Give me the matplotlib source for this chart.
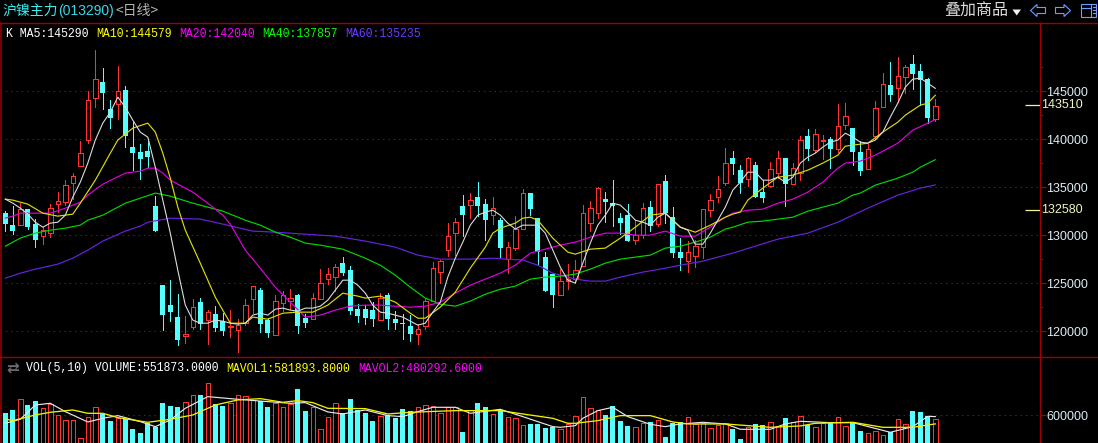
import numpy as np
import matplotlib
matplotlib.use('Agg')
import matplotlib.pyplot as plt
from matplotlib.patches import Polygon, Rectangle

# candles
open_p = [132290,131040,131040,132710,131150,129900,130210,133230,133440,135420,137190,139900,144270,145940,143130,143650,145100,139170,138650,138750,133020,
          124790,122710,121460,119480,120420,123020,121150,121770,121040,120420,120100,120830,123330,124270,121150,119580,122920,123130,123750,121350,121250,123330,125420,125630,127080,126350,122290,122290,122190,121150,123750,121250,120830,120520,119690,120520,123130,126150,128440,130210,
          133020,133130,133960,133230,132080,131560,127500,128650,130630,134380,131770,127710,125940,123750,125210,125420,126770,131250,132290,133750,133330,131770,132080,129480,130000,132920,131150,135630,131870,128230,127290,127810,128750,132600,133960,135420,
          138020,136770,135830,137290,134480,135100,136460,138020,135310,136460,140310,138850,139790,140000,138960,141460,141150,138650,136880,140310,143330,145620,145310,146460,147810,147080,146250,142080]
close_p = [131150,130420,132710,130830,129480,130520,132810,133540,135210,136150,138540,144060,146250,144790,142190,145000,140310,138540,137920,138130,130420,
           121670,121980,119060,119690,122500,120730,121980,120310,120000,120520,120630,122710,124690,120730,119790,123130,123750,123440,120520,120830,123440,125000,125940,126670,126040,122080,121560,121350,121250,123440,121250,120830,120730,119690,120210,123130,126560,127290,129900,131350,
           132080,133650,133020,131560,132810,128650,128750,130630,134380,132710,128230,124170,123750,125210,125420,126350,132290,132810,134900,133440,133020,131250,129380,130000,132810,130940,135310,132290,128130,127600,128230,128850,132710,133650,134790,137500,
           137400,135420,138020,133960,133850,136880,138020,135310,136980,139900,138960,140520,139900,138960,141350,142400,138650,136670,138960,143230,145730,144580,146560,147500,146770,146150,142190,143440]
high_p = [132500,133020,133330,132710,131670,130830,133230,134480,135730,136460,139790,145000,149270,147400,144060,147600,145520,141770,139480,139790,134060,
          124790,125310,123850,121560,123330,123440,122190,122600,121870,122190,121250,123330,124690,124480,121350,123750,124170,124370,123850,121770,123960,126460,126560,126980,127710,126770,122810,122710,123020,123960,123960,122080,121770,121670,120730,123330,127190,127400,131250,131770,
          134170,134380,135520,133750,133960,131770,129270,131980,134790,134380,131770,128230,126040,126460,126980,127400,133130,133540,135000,134480,135730,132290,133230,131560,133330,133540,135310,136250,132920,129690,129380,129480,132710,134270,136150,139060,
          138750,137290,138130,137600,135730,137600,138750,138020,137500,140310,141040,141040,140420,140210,143650,143750,141150,139790,139480,143960,146880,148020,148540,147710,148750,147810,146350,144170]
low_p = [130420,130100,131040,130630,128750,129060,129790,132400,133130,133750,137190,139580,143330,143130,141150,142080,139170,136770,135830,137080,130420,
         120100,121040,118540,118750,120210,120210,118650,120000,119580,119370,117810,120630,121870,119900,119370,119580,122080,122290,119790,120420,121250,123330,124900,124170,125830,121770,120940,120730,120520,121150,120210,120210,119170,118960,118650,120210,123130,125000,127810,127920,
         129900,131770,131980,129480,131150,127710,126040,128440,130630,132080,126980,124170,122500,123750,124370,125000,126770,130420,131770,131350,130940,130100,129380,129060,129690,130420,130940,131250,127710,126350,126150,126670,127600,131980,133440,135210,
         136350,134380,135100,133960,133440,135000,135940,133020,135310,135730,137810,138650,137920,136980,138650,141040,137290,136250,136880,140000,143330,143960,143850,144790,145210,143540,141670,141870]

# moving averages, read where the line could be followed
ma5 = [133750,133330,132810,132190,131350,130830,131250,131350,132080,133960,135520,137500,139900,141670,142810,144375,143330,141980,140730,140210,137080,133650,130210,126350,122710,121150,120830,120830,121150,121040,120830,120730,120830,121670,121870,121670,122290,122400,122190,122080,122400,122400,122600,123230,124270,125310,125310,124790,123960,122710,121980,121870,121670,121460,121040,120630,120830,121980,123020,125630,127600,129270,131040,132080,132400,132600,132080,131250,130630,131040,131040,131040,130210,128440,126670,125310,125000,127080,129170,131040,132080,133330,133130,132400,131560,131350,131040,131870,132290,131560,130830,130520,129060,129060,130210,131560,132920,134690,135520,136560,136560,135730,135730,136040,135520,136040,137500,138130,138540,139170,139690,139900,140620,140210,139690,139580,139900,140730,142290,143750,145420,146250,146350,145830,145290]
ma10_x = [0,1,3,5,7,9,10,12,14,15,17,19,20,21,22,23,24,26,28,30,32,33,35,37,39,41,43,45,47,48,50,52,54,55,56,58,60,62,64,65,66,68,69,70,71,73,75,76,78,80,82,84,86,88,90,92,94,96,97,98,99,101,103,105,107,109,111,112,115,117,119,120,122,123,124]
ma10 = [133750,133650,133230,132290,131980,132190,133330,135730,138540,139900,141150,141670,140730,138540,135940,132920,130520,127080,123540,120830,120830,121460,121250,121870,121980,121980,122710,123960,123650,123440,123650,123020,121870,121350,121350,122500,124060,126560,128750,130210,130730,131250,131770,131870,131560,129690,128230,128020,128540,128650,129690,130830,132080,132290,130830,130310,131040,131870,132190,132400,133650,134900,136040,136250,136770,137500,138330,139270,139580,140730,141770,142500,143540,143750,144579]
ma20_x = [0,1,2,4,6,8,10,11,13,16,18,19,20,21,22,25,27,29,30,32,34,36,38,40,42,44,46,48,50,52,54,56,58,60,62,64,66,68,70,72,74,76,78,80,82,84,86,88,90,92,94,96,97,99,101,103,105,107,109,111,112,114,116,119,121,123,124]
ma20 = [131770,131980,132290,132290,132290,132810,133440,134170,135310,136460,136670,136980,136980,136460,135730,134480,133330,132080,131150,128440,126560,124580,123020,121460,121670,122190,122600,122710,122710,122600,122500,122600,123020,123960,124790,125420,126040,126870,128130,128540,128960,129270,129790,130210,130210,130000,130000,130420,129900,129900,130830,131870,132290,132600,132710,133330,133750,134480,135520,136980,137500,137710,138330,139580,140940,141670,142040]
ma40_x = [0,2,4,6,8,10,11,13,16,18,20,22,25,29,32,34,36,38,40,42,45,48,50,52,54,56,58,60,62,64,66,68,70,72,74,76,78,80,82,84,86,88,90,92,94,96,97,99,101,103,105,107,109,111,113,114,116,119,121,122,124]
ma40 = [128850,129690,130210,130520,130730,131040,131560,132080,133330,133850,134380,134060,133330,132500,131560,131040,130310,129790,129170,128960,128540,127600,126870,125830,124580,123440,122810,122600,123130,123850,124370,124690,125420,125630,125730,125940,126460,127080,127500,127710,127920,128650,128850,129270,129790,130630,130830,131350,131460,131670,131870,132500,132920,133330,134170,134380,135210,135940,136560,137080,137857]
ma60_x = [0,2,4,7,9,11,13,16,18,19,22,26,29,33,36,40,44,48,52,55,58,62,65,69,71,73,76,78,80,82,85,88,90,93,95,97,103,107,111,115,119,122,124]
ma60 = [125520,126040,126460,126980,127600,128440,129380,130420,130940,131350,131770,131670,131150,130420,130310,130100,129900,129380,128750,127920,127500,127500,127600,127400,126870,126040,125420,125210,125210,125630,126150,126560,126870,127290,127710,128130,129580,130210,131350,132810,134170,134900,135235]

volume = [632000,673700,826600,743000,798800,701500,757000,604000,534700,534700,284700,576000,715000,618000,520800,569000,548600,409600,354000,493000,437000,
          771000,729000,715000,785000,882000,882000,1049000,757000,729000,771000,882000,868000,812700,798800,715000,771000,715000,757000,965600,659800,715000,409600,576000,771000,632000,826600,673700,632000,520800,590000,604000,562500,687600,659800,715000,743000,729000,632000,715000,715000,
          368000,673700,771000,715000,618000,673700,576000,562500,465000,479000,479000,423500,437000,409600,479000,590000,854000,701500,673700,604000,729000,520800,451000,437000,493000,507000,534700,298600,493000,507000,576000,479000,493000,423500,465000,493000,
          409600,270800,437000,479000,465000,507000,451000,562500,507000,590000,465000,437000,493000,493000,576000,451000,493000,381800,354000,381800,326000,368000,548600,479000,659800,646000,590000,551873]
mavol1_x = [0,2,4,6,8,11,13,15,18,20,22,24,27,31,35,38,40,43,45,48,51,53,55,57,60,62,66,69,73,74,76,77,79,81,83,86,88,90,93,96,98,102,104,106,110,113,118,121,123,124]
mavol1 = [488800,544400,743600,766800,651000,507300,558300,595400,512000,442500,535100,697300,859400,822400,790000,766800,776000,646300,618500,674100,595400,581500,651000,711200,711200,627800,683400,581500,442500,433200,456400,558300,664900,711200,581500,474900,442500,479500,502700,479500,405400,405400,479500,516600,498100,498100,363700,442500,586100,581893]
mavol2_x = [0,1,4,6,9,11,13,15,19,22,25,28,31,34,37,39,41,43,48,51,54,60,66,69,73,75,76,79,82,86,89,91,96,102,106,108,113,117,121,124]
mavol2 = [549000,525900,604600,641700,674100,627800,627800,567600,502700,544400,604600,743600,813100,831700,780700,803900,776000,697300,692700,618500,641700,664900,664900,618500,558300,488800,488800,525900,595400,595400,507300,479500,479500,433200,451900,488800,502700,433200,433200,480292]

price_ticks = [120000,125000,130000,135000,140000,145000]
vol_ticks = [600000]
marked_prices = [143510,132580]

red = '#ff3232'
cyan = '#54ffff'
border = '#9c0000'
tick_col = '#dcecf4'

W, H = 1098, 443
fig = plt.figure(figsize=(W/100, H/100), dpi=100, facecolor='black')
ax = fig.add_axes([0, (H-356.7)/H, 1039.5/W, (356.7-22.7)/H], facecolor='black')
ax2 = fig.add_axes([0, 0, 1039.5/W, (H-356.7)/H], facecolor='black')

x = np.arange(len(open_p))
opens = np.array(open_p)
closes = np.array(close_p)
up = closes >= opens

# price pane
ax.vlines(x[up], np.array(low_p)[up], np.array(high_p)[up], color=red, lw=0.72, zorder=2, antialiased=False)
ax.vlines(x[~up], np.array(low_p)[~up], np.array(high_p)[~up], color=cyan, lw=0.72, zorder=2, antialiased=False)
ax.bar(x[up], (closes-opens)[up], bottom=opens[up], width=0.6, facecolor='black',
       edgecolor=red, linewidth=0.72, zorder=3, antialiased=False)
ax.bar(x[~up], (opens-closes)[~up], bottom=closes[~up], width=0.66, facecolor=cyan,
       linewidth=0, zorder=3, antialiased=False)

ax.plot(ma60_x, ma60, color='#6a22e0', lw=0.85, zorder=4)
ax.plot(ma40_x, ma40, color='#00d800', lw=0.85, zorder=4)
ax.plot(ma20_x, ma20, color='#e000e0', lw=0.85, zorder=4)
ax.plot(ma10_x, ma10, color='#dcdc00', lw=0.85, zorder=5)
ax.plot(x, ma5, color='#dcdcdc', lw=0.8, zorder=6)

ax.set_xlim(-5.3/7.5, (1039.5-5.3)/7.5)
ax.set_ylim(117339, 152130)
ax.set_xticks([])
ax.yaxis.tick_right()
ax.set_yticks(price_ticks)
ax.set_yticklabels([str(v) for v in price_ticks], color=tick_col, fontsize=9, family='Liberation Sans')
ax.tick_params(axis='y', length=4.3, width=0.9, color=border, pad=0.6)
ax.grid(axis='y', color='#a80000', lw=0.75, linestyle=(0, (1.4, 3.7)))
ax.set_axisbelow(True)

# smaller marks on the price scale
trans = ax.get_yaxis_transform()
mid_marks = [v+2500 for v in price_ticks]
short_marks = [v+1250 for v in price_ticks] + [v+3750 for v in price_ticks] + [118750]
ax.hlines(mid_marks, 1, 1+3.5/1039.5, transform=trans, color=border, lw=0.9, clip_on=False)
ax.hlines(short_marks, 1, 1+1.8/1039.5, transform=trans, color=border, lw=0.9, clip_on=False)
ax.hlines(marked_prices, 1-15/1039.5, 1, transform=trans, color='#f2f2a0', lw=0.9, zorder=7)
for v in marked_prices:
    ax.text(1+1.8/1039.5, v, str(v), transform=trans, color='#f2f2c0', fontsize=9,
            family='Liberation Sans', va='center', ha='left')

# volume pane
vol = np.array(volume)
ax2.bar(x[up], vol[up], width=0.6, facecolor='black', edgecolor=red, linewidth=0.72,
        zorder=3, antialiased=False)
ax2.bar(x[~up], vol[~up], width=0.68, facecolor=cyan, linewidth=0,
        zorder=3, antialiased=False)
ax2.plot(mavol1_x, mavol1, color='#e8e8e8', lw=0.85, zorder=5)
ax2.plot(mavol2_x, mavol2, color='#f0f000', lw=0.95, zorder=5)
ax2.set_xlim(-5.3/7.5, (1039.5-5.3)/7.5)
ax2.set_ylim(215000, 1414500)
ax2.set_xticks([])
ax2.yaxis.tick_right()
ax2.set_yticks(vol_ticks)
ax2.set_yticklabels([str(v) for v in vol_ticks], color=tick_col, fontsize=9, family='Liberation Sans')
ax2.tick_params(axis='y', length=4.3, width=0.9, color=border, pad=0.6)
ax2.grid(axis='y', color='#a80000', lw=0.75, linestyle=(0, (1.4, 3.7)))
ax2.set_axisbelow(True)

for a in (ax, ax2):
    for s in a.spines.values():
        s.set_visible(False)
    a.spines['right'].set_visible(True)
    a.spines['right'].set_color(border)
    a.spines['right'].set_linewidth(0.9)

# frame, header and toolbar, in pixel coordinates
top = fig.add_axes([0, 0, 1, 1], facecolor='none')
top.set_xlim(0, W)
top.set_ylim(H, 0)
top.axis('off')
top.plot([0, W], [22.7, 22.7], color=border, lw=1.0)
top.plot([0, W], [356.7, 356.7], color=border, lw=1.0)
top.plot([0.7, 0.7], [22.7, H], color=border, lw=1.1)

cjk = ['Noto Sans CJK SC', 'DejaVu Sans']
top.text(2, 10.5, '沪镍主力', color='#38eeee', fontsize=10, family=cjk, va='center')
top.text(58, 11, '(013290)', color='#38d8e8', fontsize=10, family='Liberation Sans', va='center')
top.text(116, 10.5, '<日线>', color='#b4b4b4', fontsize=10, family=cjk, va='center')
top.text(944.5, 11.5, '叠加商品', color='#dcdcdc', fontsize=11.5, family=cjk, va='center')
top.add_patch(Polygon([(1012.5, 9.5), (1021, 9.5), (1016.7, 15.5)], closed=True, color='#f0f0f0', lw=0))

blue = '#6f9cff'
top.add_patch(Polygon([(1030.5, 10.5), (1037, 4.5), (1037, 7.5), (1045.5, 7.5), (1045.5, 13.5),
                       (1037, 13.5), (1037, 16.5)], closed=True, fill=False, edgecolor=blue, lw=0.8))
top.add_patch(Polygon([(1070.5, 10.5), (1064, 4.5), (1064, 7.5), (1055.5, 7.5), (1055.5, 13.5),
                       (1064, 13.5), (1064, 16.5)], closed=True, fill=False, edgecolor=blue, lw=0.8))
top.add_patch(Rectangle((1080.5, 3.5), 15.5, 13, fill=False, edgecolor=blue, lw=0.8))
top.plot([1090.7, 1090.7], [3.5, 16.5], color=blue, lw=0.8)
top.plot([1080.5, 1090.7], [7.5, 7.5], color=blue, lw=0.8)
for yy in (7, 10, 13):
    top.plot([1092.5, 1094.5], [yy, yy], color=blue, lw=0.8)

mono = 'Liberation Mono'
head = [(6, 'K MA5:145290', '#ffffff'), (96, 'MA10:144579', '#ffff00'), (179, 'MA20:142040', '#ff00ff'),
        (262, 'MA40:137857', '#00ff00'), (345, 'MA60:135235', '#6a3cff')]
for hx, txt, col in head:
    top.text(hx, 33.5, txt, color=col, fontsize=8.3, family=mono, va='center')
vol_head = [(26, 'VOL(5,10) VOLUME:551873.0000', '#ffffff'), (226, 'MAVOL1:581893.8000', '#ffff00'),
            (358, 'MAVOL2:480292.6000', '#ff00ff')]
for hx, txt, col in vol_head:
    top.text(hx, 368.5, txt, color=col, fontsize=8.3, family=mono, va='center')
top.text(6.5, 368, '⇄', color='#6a6a6a', fontsize=11, family='DejaVu Sans', va='center', weight='bold')

plt.savefig('out.png', dpi=100, facecolor='black')
